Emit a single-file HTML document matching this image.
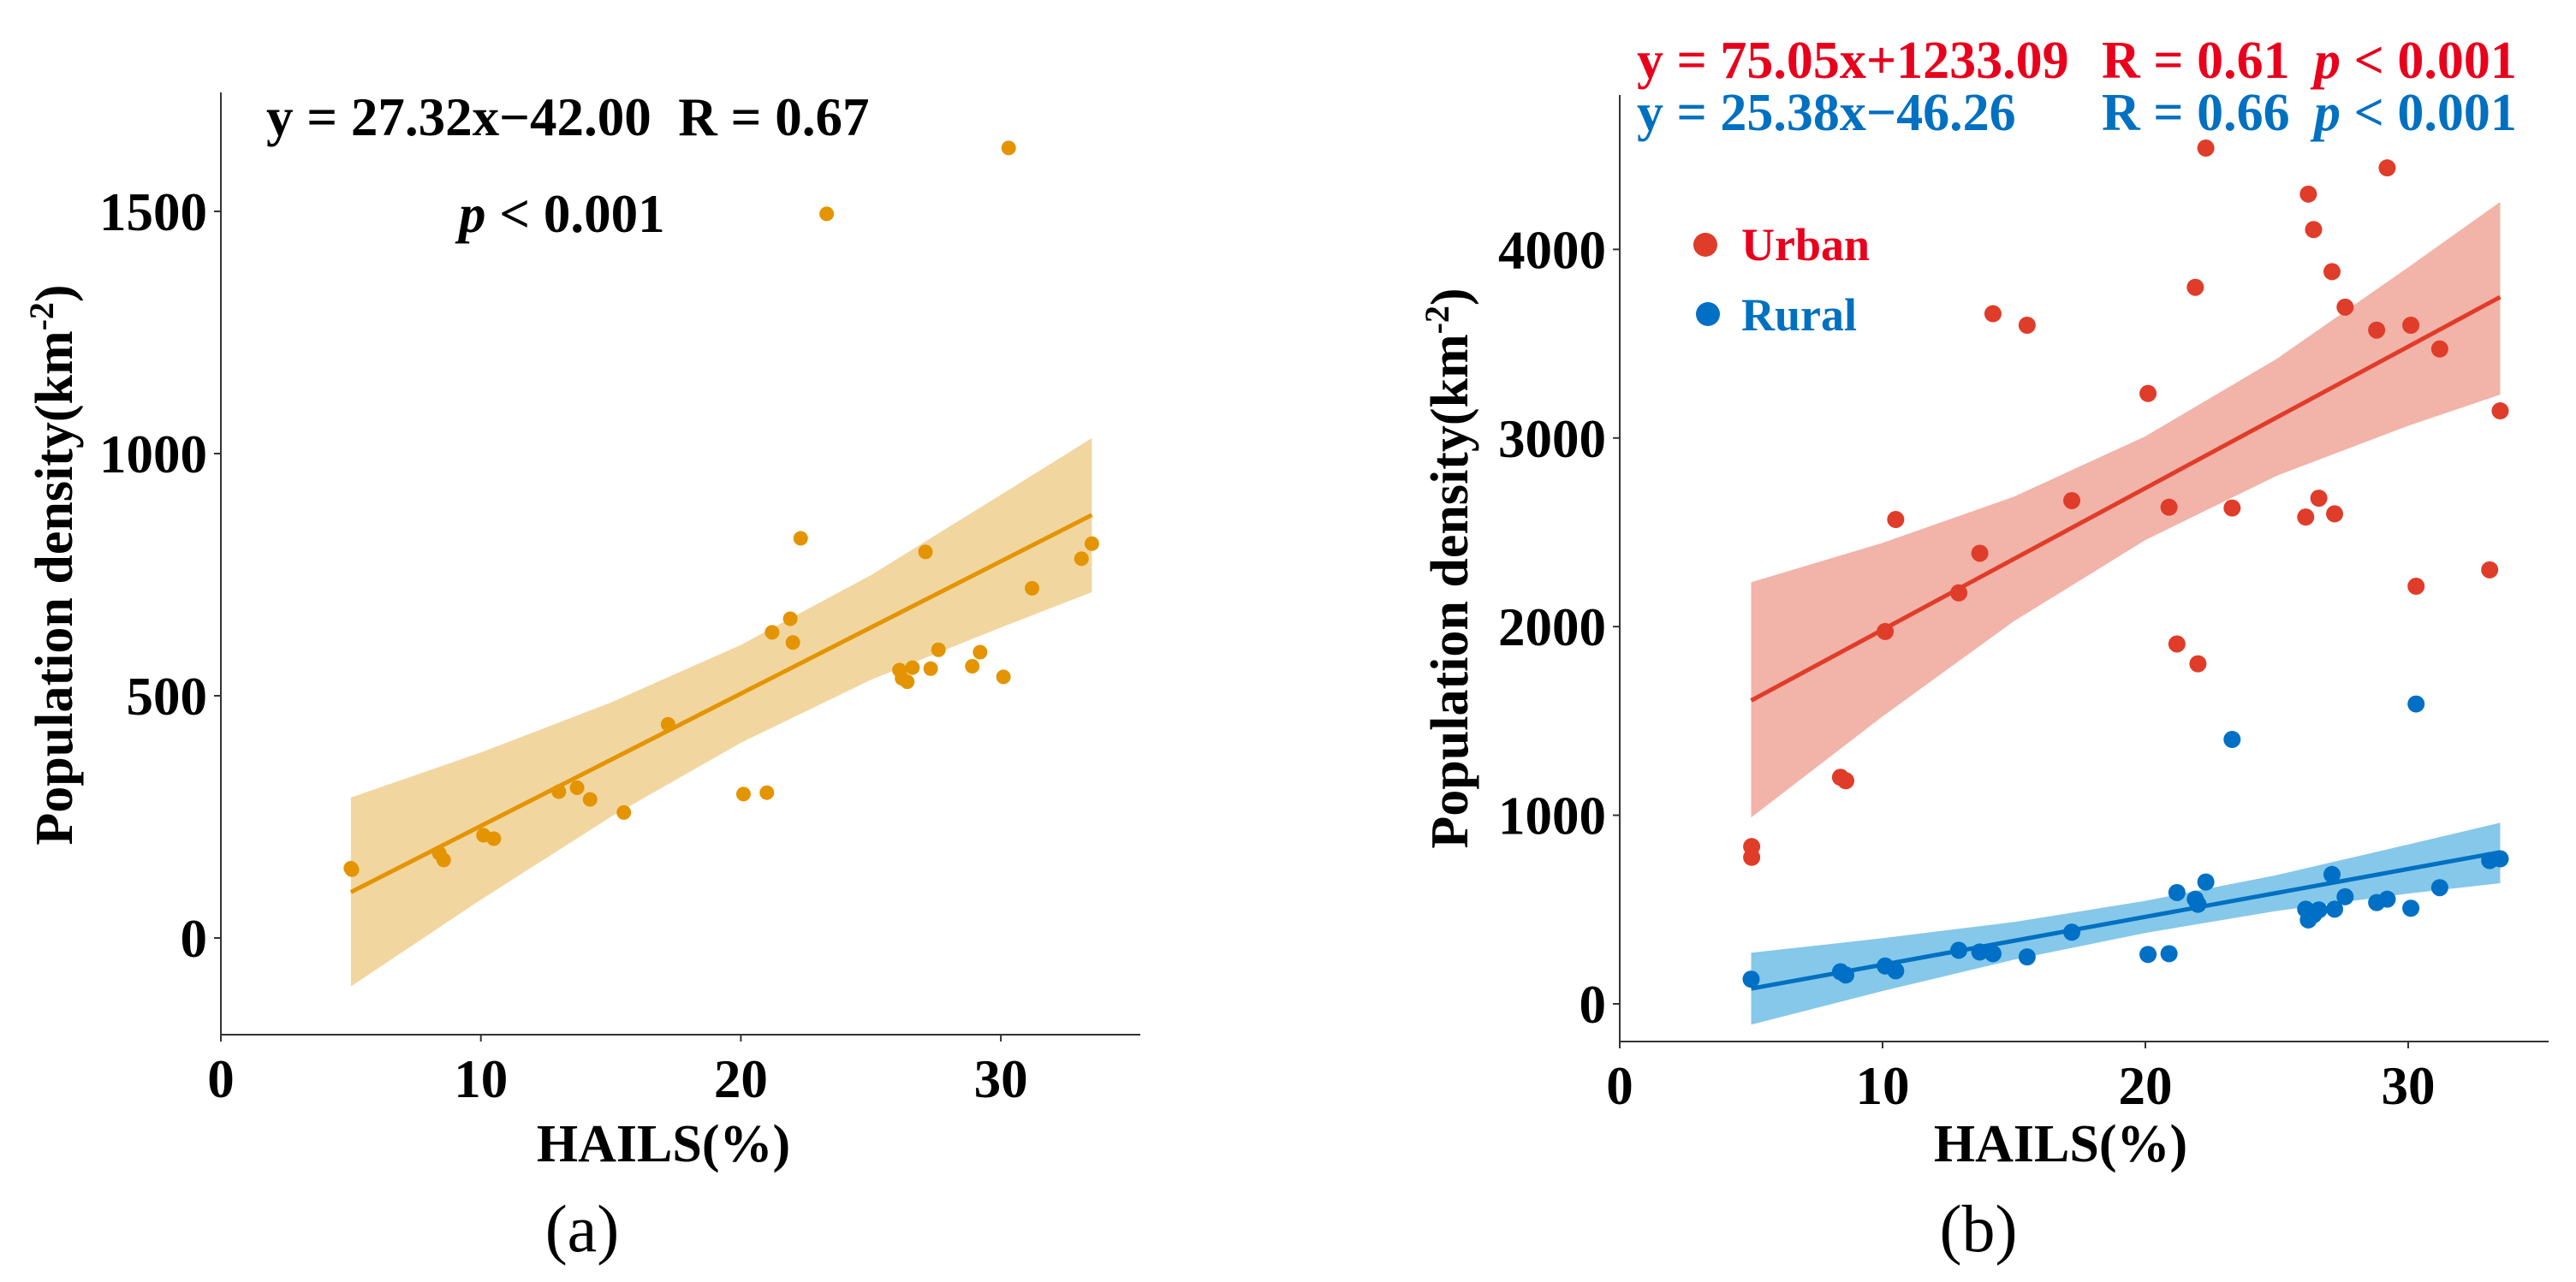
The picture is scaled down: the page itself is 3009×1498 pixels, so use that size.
<!DOCTYPE html>
<html><head><meta charset="utf-8"><style>
html,body{margin:0;padding:0;background:#fff;}
svg{display:block;font-family:"Liberation Serif",serif;}
</style></head><body>
<svg id="fig" width="3009" height="1498" viewBox="0 0 3009 1498" xmlns="http://www.w3.org/2000/svg">
<g id="pa"></g>
<g id="pb"></g>
</svg>
<script>
// ---- Panel (a) data ----
const aX = [5.04,5.0,8.4,8.57,10.1,10.5,13.0,13.7,14.2,15.5,17.2,20.1,21.0,21.2,21.9,22.0,22.3,23.3,26.1,26.2,26.4,26.6,27.1,27.3,27.6,28.9,29.2,30.1,30.3,31.2,33.1,33.5];
const aY = [141,144,175,161,212,205,302,310,286,259,441,297,300,631,659,610,825,1495,553,536,529,558,797,556,595,561,590,539,1631,722,783,814];
const aFit = [27.32,-42.00];
const aCiX = [5,10,15,20,25,30,33.5];
const aCiUp = [290,383,486,605,749,915,1032];
const aCiLo = [-100,79,250,403,533,641,714];
const aXTicks = [0,10,20,30];
const aYTicks = [0,500,1000,1500];
// ---- Panel (b) data ----
const bX = [5.02,5.02,8.4,8.6,10.1,10.5,12.9,13.7,14.2,15.5,17.2,20.1,20.9,21.2,21.9,22.0,22.3,23.3,26.1,26.2,26.4,26.6,27.1,27.2,27.6,28.8,29.2,30.1,30.3,31.2,33.1,33.5];
const urbanY = [834,777,1201,1183,1974,2568,2179,2389,3659,3598,2668,3236,2633,1908,3799,1803,4537,2629,2581,4293,4105,2681,3882,2598,3694,3572,4432,3598,2214,3472,2301,3144];
const ruralX = [5.0,8.4,8.6,10.1,10.5,12.9,13.7,14.2,15.5,17.2,20.1,20.9,21.2,21.9,22.0,22.3,23.3,26.1,26.2,26.4,26.6,27.1,27.2,27.6,28.8,29.2,30.1,30.3,31.2,33.1,33.5];
const ruralY = [131,170,153,201,175,284,275,266,249,380,262,266,590,555,528,646,1402,502,445,472,498,686,502,568,537,555,507,1590,616,760,769];
const urbanFit = [75.05,1233.09];
const ruralFit = [25.38,-46.26];
const bCiX = [5,10,15,20,25,30,33.5];
const urbanCiUp = [2235,2444,2689,3009,3420,3905,4252];
const urbanCiLo = [988,1524,2029,2459,2800,3065,3230];
const ruralCiUp = [271,348,434,546,683,845,960];
const ruralCiLo = [-110,68,234,376,493,585,640];
const bXTicks = [0,10,20,30];
const bYTicks = [0,1000,2000,3000,4000];

const NS="http://www.w3.org/2000/svg";
function mk(parent,tag,attrs,text){const e=document.createElementNS(NS,tag);for(const k in attrs)e.setAttribute(k,attrs[k]);if(text!==undefined)e.textContent=text;parent.appendChild(e);return e;}

function axes(g,X,Y,x0,x1,yTop,yBot,xt,yt){
  const ax=mk(g,'line',{x1:x0,y1:yBot,x2:x1,y2:yBot,stroke:'#333','stroke-width':2});
  
  
  const ay=mk(g,'line',{x1:x0,y1:yTop,x2:x0,y2:yBot,stroke:'#333','stroke-width':2});
  
  
  xt.forEach(v=>{
    mk(g,'line',{x1:X(v),y1:yBot,x2:X(v),y2:yBot+8,stroke:'#333','stroke-width':2});
    const t=mk(g,'text',{x:X(v),y:yBot+73,'text-anchor':'middle','font-size':63,'font-weight':'bold'},String(v));
    
    
  });
  yt.forEach(v=>{
    mk(g,'line',{x1:x0-8,y1:Y(v),x2:x0,y2:Y(v),stroke:'#333','stroke-width':2});
    const t=mk(g,'text',{x:x0-16,y:Y(v)+22,'text-anchor':'end','font-size':63,'font-weight':'bold'},String(v));
    
    
  });
}
function band(g,X,Y,xs,up,lo,fill,name){
  let d='M'+xs.map((x,i)=>X(x)+','+Y(up[i])).join(' L');
  for(let i=xs.length-1;i>=0;i--) d+=' L'+X(xs[i])+','+Y(lo[i]);
  const p=mk(g,'path',{d:d+'Z',fill:fill});
  
  
}
function fitLine(g,X,Y,fit,xa,xb,color,name){
  const l=mk(g,'line',{x1:X(xa),y1:Y(fit[0]*xa+fit[1]),x2:X(xb),y2:Y(fit[0]*xb+fit[1]),stroke:color,'stroke-width':5});
  
  
}
function pts(g,X,Y,xs,ys,r,color,name){
  xs.forEach((x,i)=>{
    const c=mk(g,'circle',{cx:X(x),cy:Y(ys[i]),r:r,fill:color});
    
    
  });
}
function label(g,attrs,text,name){
  const t=mk(g,'text',attrs,text);
  
  
  return t;
}

// Panel a
(function(){
  const g=document.getElementById('pa');
  const X=v=>258+30.37*v, Y=v=>1096-0.566*v;
  band(g,X,Y,aCiX,aCiUp,aCiLo,'#F2D6A0','confidence-band');
  fitLine(g,X,Y,aFit,5,33.5,'#E39400','regression-line');
  pts(g,X,Y,aX,aY,8.5,'#E39400','data-point');
  axes(g,X,Y,258,1332,108,1209,aXTicks,aYTicks);
  label(g,{x:311,y:158,'font-size':63,'font-weight':'bold','xml:space':'preserve'},'y = 27.32x\u221242.00\u00a0\u00a0R = 0.67','equation-label');
  const p=label(g,{x:536,y:271,'font-size':63,'font-weight':'bold'},'','p-value-label');
  mk(p,'tspan',{'font-style':'italic'},'p');mk(p,'tspan',{},' < 0.001');
  const yt=label(g,{x:0,y:0,'font-size':62,'font-weight':'bold','text-anchor':'middle',transform:'translate(84,660) rotate(-90)'},'Population density(km','y-axis-title');
  mk(yt,'tspan',{'font-size':40,dy:-22},'-2');mk(yt,'tspan',{dy:22},')');
  label(g,{x:775,y:1357,'font-size':62,'font-weight':'bold','text-anchor':'middle'},'HAILS(%)','x-axis-title');
  label(g,{x:680,y:1462,'font-size':78,'text-anchor':'middle'},'(a)','panel-label-a');
})();

// Panel b
(function(){
  const g=document.getElementById('pb');
  const X=v=>1892+30.7*v, Y=v=>1173-0.2204*v;
  band(g,X,Y,bCiX,urbanCiUp,urbanCiLo,'#F2B3A8','urban-confidence-band');
  band(g,X,Y,bCiX,ruralCiUp,ruralCiLo,'#85C8EA','rural-confidence-band');
  fitLine(g,X,Y,urbanFit,5,33.5,'#E03C2A','urban-regression-line');
  fitLine(g,X,Y,ruralFit,5,33.5,'#0070C0','rural-regression-line');
  pts(g,X,Y,bX,urbanY,10,'#E03C2A','urban-point');
  pts(g,X,Y,ruralX,ruralY,10,'#0070C6','rural-point');
  axes(g,X,Y,1892,2977,111,1217,bXTicks,bYTicks);
  label(g,{x:1912,y:91,'font-size':62,'font-weight':'bold',fill:'#E8001C'},'y = 75.05x+1233.09','urban-equation');
  label(g,{x:2455,y:91,'font-size':62,'font-weight':'bold',fill:'#E8001C'},'R = 0.61','urban-r-value');
  let p=label(g,{x:2703,y:91,'font-size':62,'font-weight':'bold',fill:'#E8001C'},'','urban-p-value');
  mk(p,'tspan',{'font-style':'italic'},'p');mk(p,'tspan',{},' < 0.001');
  label(g,{x:1912,y:152,'font-size':62,'font-weight':'bold',fill:'#0070C0'},'y = 25.38x\u221246.26','rural-equation');
  label(g,{x:2455,y:152,'font-size':62,'font-weight':'bold',fill:'#0070C0'},'R = 0.66','rural-r-value');
  p=label(g,{x:2703,y:152,'font-size':62,'font-weight':'bold',fill:'#0070C0'},'','rural-p-value');
  mk(p,'tspan',{'font-style':'italic'},'p');mk(p,'tspan',{},' < 0.001');
  const c1=mk(g,'circle',{cx:1992,cy:286,r:14,fill:'#E03C2A'});
  
  
  label(g,{x:2034,y:304,'font-size':54,'font-weight':'bold',fill:'#E8001C'},'Urban','legend-urban-label');
  const c2=mk(g,'circle',{cx:1995,cy:367,r:14,fill:'#0070C6'});
  
  
  label(g,{x:2034,y:386,'font-size':54,'font-weight':'bold',fill:'#0070C0'},'Rural','legend-rural-label');
  const yt=label(g,{x:0,y:0,'font-size':62,'font-weight':'bold','text-anchor':'middle',transform:'translate(1714,664) rotate(-90)'},'Population density(km','y-axis-title');
  mk(yt,'tspan',{'font-size':40,dy:-22},'-2');mk(yt,'tspan',{dy:22},')');
  label(g,{x:2407,y:1357,'font-size':62,'font-weight':'bold','text-anchor':'middle'},'HAILS(%)','x-axis-title');
  label(g,{x:2311,y:1462,'font-size':78,'text-anchor':'middle'},'(b)','panel-label-b');
})();
</script>
</body></html>
